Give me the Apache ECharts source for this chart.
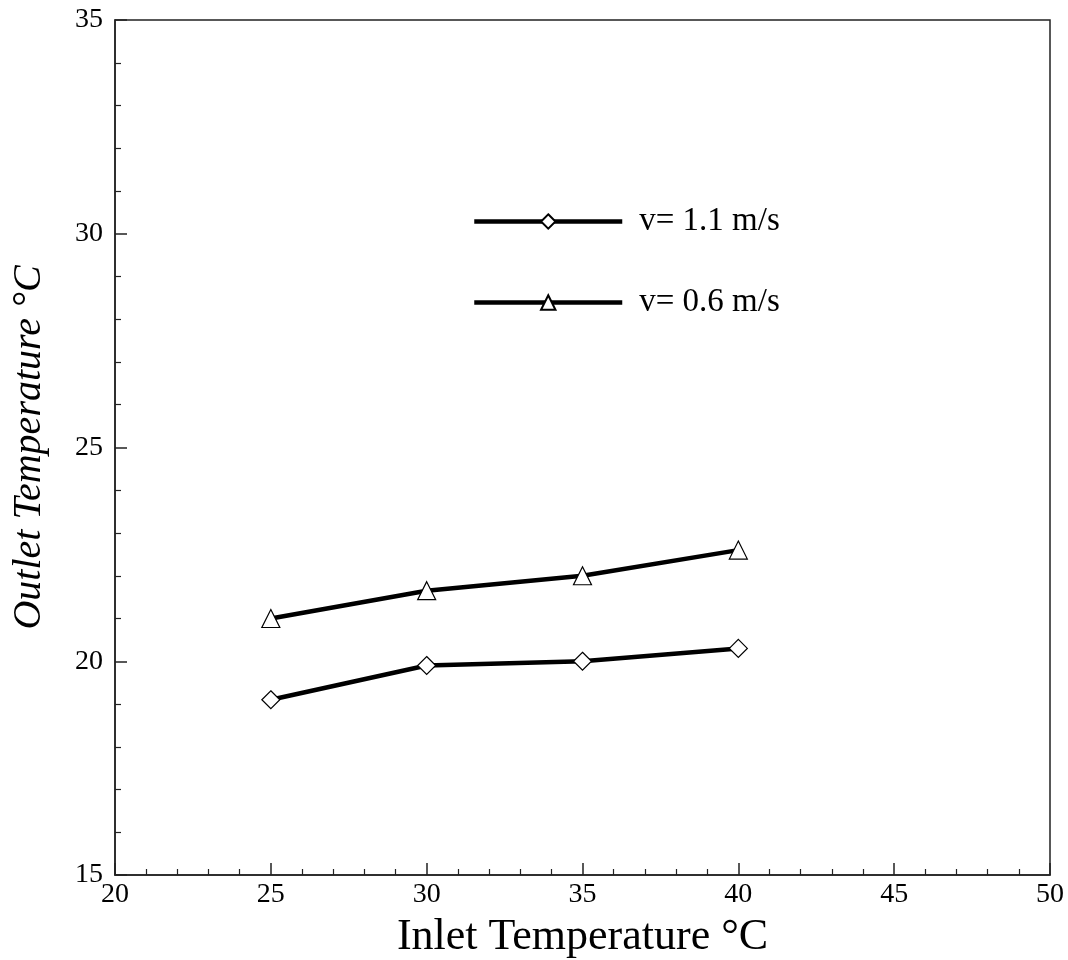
<!DOCTYPE html>
<html>
<head>
<meta charset="utf-8">
<script src="https://cdn.jsdelivr.net/npm/echarts@6/dist/echarts.min.js"></script>
<style>html,body{margin:0;padding:0;background:#fff;}#c{width:1068px;height:960px;}</style>
</head>
<body>
<div id="c"></div>
<script>
const inletTemps = [25, 30, 35, 40];
const outletV11 = [19.1, 19.9, 20.0, 20.3];
const outletV06 = [21.0, 21.65, 22.0, 22.6];
const seriesNames = ['v= 1.1 m/s', 'v= 0.6 m/s'];

const chart = echarts.init(document.getElementById('c'));
const font = 'Liberation Serif';
function pairs(xs, ys) { return xs.map((x, i) => [x, ys[i]]); }
const lineStyle = { color: '#000', width: 4.5 };
const itemStyle = { color: '#fff', borderColor: '#000', borderWidth: 1.2 };
chart.setOption({
  backgroundColor: '#fff',
  animation: false,
  grid: { left: 115, right: 18, top: 20, bottom: 85, outerBoundsMode: 'none', containLabel: false,
    show: true, borderColor: '#222', borderWidth: 1.5, backgroundColor: 'transparent' },
  legend: {
    orient: 'vertical',
    left: 467, top: 200,
    itemWidth: 148, itemHeight: 18,
    itemGap: 48,
    lineStyle: { width: 4.5, color: '#000' },
    textStyle: { fontFamily: font, fontSize: 33, color: '#000', padding: [0, 0, 0, 12] },
    data: seriesNames
  },
  xAxis: {
    type: 'value', min: 20, max: 50, interval: 5,
    name: 'Inlet Temperature °C', nameLocation: 'middle', nameGap: 40,
    nameTextStyle: { fontFamily: font, fontSize: 44, color: '#000' },
    axisLine: { lineStyle: { color: '#222', width: 1.5 } },
    axisTick: { inside: true, length: 12, lineStyle: { color: '#222', width: 1.5 } },
    minorTick: { show: true, splitNumber: 5, length: 6, lineStyle: { color: '#222', width: 1.2 } },
    axisLabel: { fontFamily: font, fontSize: 28, color: '#000', margin: 6 },
    splitLine: { show: false }
  },
  yAxis: {
    type: 'value', min: 15, max: 35, interval: 5,
    name: 'Outlet Temperature °C', nameLocation: 'middle', nameGap: 66,
    nameTextStyle: { fontFamily: font, fontSize: 40, fontStyle: 'italic', color: '#000' },
    axisLine: { lineStyle: { color: '#222', width: 1.5 } },
    axisTick: { inside: true, length: 12, lineStyle: { color: '#222', width: 1.5 } },
    minorTick: { show: true, splitNumber: 5, length: 6, lineStyle: { color: '#222', width: 1.2 } },
    axisLabel: { fontFamily: font, fontSize: 28, color: '#000', margin: 12 },
    splitLine: { show: false }
  },
  series: [
    { name: seriesNames[0], type: 'line', data: pairs(inletTemps, outletV11), symbol: 'diamond', symbolSize: 18,
      lineStyle, itemStyle, z: 3 },
    { name: seriesNames[1], type: 'line', data: pairs(inletTemps, outletV06), symbol: 'triangle', symbolSize: 18,
      lineStyle, itemStyle, z: 3 }
  ]
});
</script>
</body>
</html>
